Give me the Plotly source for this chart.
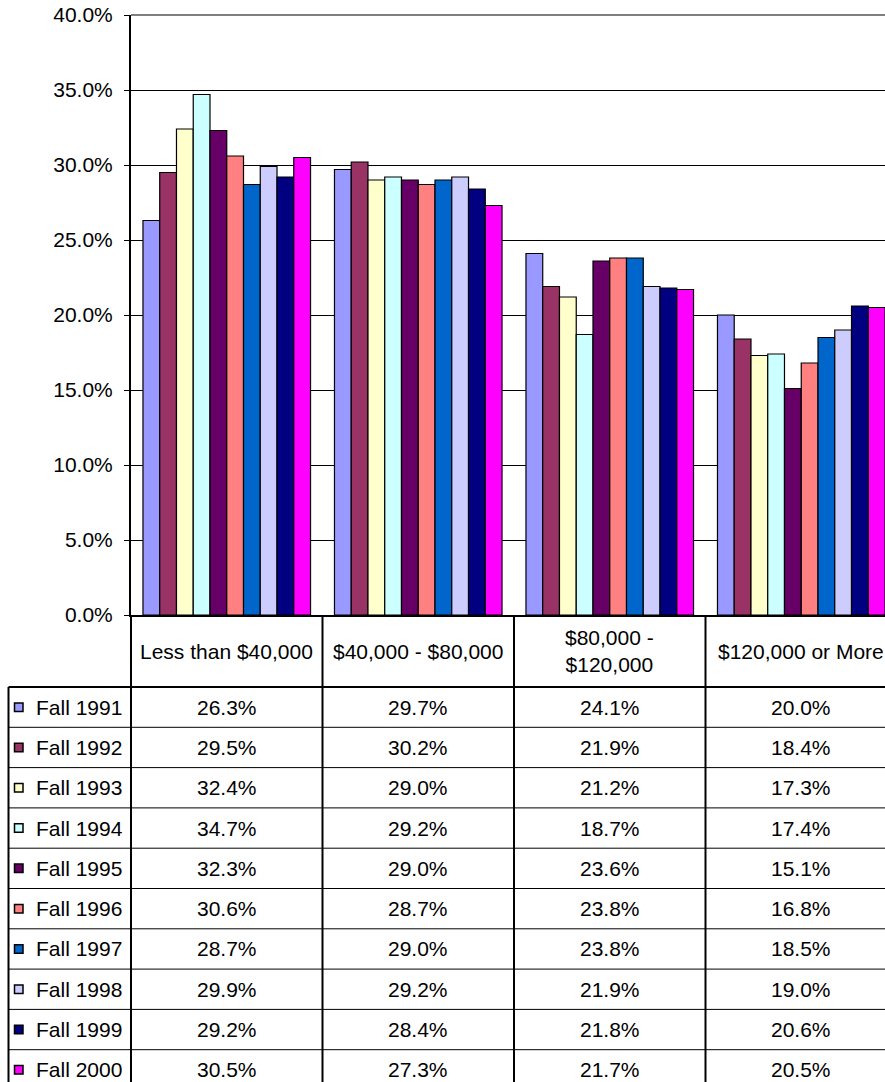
import plotly.graph_objects as go

# ---- data ----
categories = ["Less than $40,000", "$40,000 - $80,000", "$80,000 - $120,000", "$120,000 or More"]
header_labels = ["Less than $40,000", "$40,000 - $80,000", "$80,000 -<br>$120,000", "$120,000 or More"]
series_names = ["Fall 1991", "Fall 1992", "Fall 1993", "Fall 1994", "Fall 1995",
                "Fall 1996", "Fall 1997", "Fall 1998", "Fall 1999", "Fall 2000"]
fall_1991 = [26.3, 29.7, 24.1, 20.0]
fall_1992 = [29.5, 30.2, 21.9, 18.4]
fall_1993 = [32.4, 29.0, 21.2, 17.3]
fall_1994 = [34.7, 29.2, 18.7, 17.4]
fall_1995 = [32.3, 29.0, 23.6, 15.1]
fall_1996 = [30.6, 28.7, 23.8, 16.8]
fall_1997 = [28.7, 29.0, 23.8, 18.5]
fall_1998 = [29.9, 29.2, 21.9, 19.0]
fall_1999 = [29.2, 28.4, 21.8, 20.6]
fall_2000 = [30.5, 27.3, 21.7, 20.5]
series_values = [fall_1991, fall_1992, fall_1993, fall_1994, fall_1995,
                 fall_1996, fall_1997, fall_1998, fall_1999, fall_2000]
colors = ["#9999FF", "#993366", "#FFFFCC", "#CCFFFF", "#660066",
          "#FF8080", "#0066CC", "#CCCCFF", "#000080", "#FF00FF"]

# ---- layout constants (pixels) ----
W, H = 885, 1082
ML, MT = 131, 15
PLOT_BOTTOM = 615
PW = W - ML
PH = PLOT_BOTTOM - MT
CAT_PX = 191.5
X_MAX = PW / CAT_PX - 0.5
FONT = "Arial, Liberation Sans, sans-serif"
FS = 21

def px_x(px):
    return (px - ML) / PW

def px_y(py):
    return (PLOT_BOTTOM - py) / PH

fig = go.Figure()
for name, vals, col in zip(series_names, series_values, colors):
    fig.add_trace(go.Bar(
        name=name, x=categories, y=[v / 100 for v in vals],
        marker=dict(color=col, line=dict(color="black", width=1.2)),
        showlegend=False,
    ))

shapes = []
annotations = []

# top border of plot area (gray)
shapes.append(dict(type="line", xref="paper", yref="paper", x0=0, x1=1.05, y0=1, y1=1,
                   line=dict(color="#808080", width=2), layer="above"))

# table geometry
HEADER_BOTTOM = 687
ROW_H = 40.3
TABLE_LEFT = 8.5
BOTTOM = 1100

# horizontal lines
shapes.append(dict(type="line", xref="paper", yref="paper", x0=px_x(TABLE_LEFT), x1=1.05,
                   y0=px_y(HEADER_BOTTOM), y1=px_y(HEADER_BOTTOM),
                   line=dict(color="black", width=2)))
for k in range(1, len(series_names)):
    yy = px_y(HEADER_BOTTOM + k * ROW_H)
    shapes.append(dict(type="line", xref="paper", yref="paper", x0=px_x(TABLE_LEFT), x1=1.05,
                       y0=yy, y1=yy, line=dict(color="black", width=1)))
# vertical lines
shapes.append(dict(type="line", xref="paper", yref="paper", x0=px_x(TABLE_LEFT), x1=px_x(TABLE_LEFT),
                   y0=px_y(HEADER_BOTTOM), y1=px_y(BOTTOM), line=dict(color="black", width=2)))
for b in range(len(categories)):
    xx = b / (X_MAX + 0.5)
    shapes.append(dict(type="line", xref="paper", yref="paper", x0=xx, x1=xx,
                       y0=0, y1=px_y(BOTTOM), line=dict(color="black", width=2)))

# header labels
for i, lab in enumerate(header_labels):
    annotations.append(dict(xref="x", yref="paper", x=i, y=px_y((PLOT_BOTTOM + HEADER_BOTTOM) / 2),
                            text=lab, showarrow=False, xanchor="center", yanchor="middle",
                            font=dict(family=FONT, size=FS, color="black")))

# rows
for r, (name, vals, col) in enumerate(zip(series_names, series_values, colors)):
    cy = HEADER_BOTTOM + (r + 0.5) * ROW_H
    shapes.append(dict(type="rect", xref="paper", yref="paper",
                       x0=px_x(14.5), x1=px_x(23), y0=px_y(cy - 4.25), y1=px_y(cy + 4.25),
                       fillcolor=col, line=dict(color="black", width=1.5)))
    annotations.append(dict(xref="paper", yref="paper", x=px_x(34), y=px_y(cy),
                            text=name, showarrow=False, xanchor="left", yanchor="middle",
                            font=dict(family=FONT, size=FS, color="black")))
    for i, v in enumerate(vals):
        annotations.append(dict(xref="x", yref="paper", x=i, y=px_y(cy),
                                text=f"{v:.1f}%", showarrow=False, xanchor="center", yanchor="middle",
                                font=dict(family=FONT, size=FS, color="black")))

fig.update_layout(
    width=W, height=H,
    margin=dict(l=ML, r=0, t=MT, b=H - PLOT_BOTTOM, pad=0),
    paper_bgcolor="white", plot_bgcolor="white",
    barmode="group", bargap=0.125, bargroupgap=0,
    font=dict(family=FONT, size=FS, color="black"),
    shapes=shapes, annotations=annotations,
    xaxis=dict(type="category", range=[-0.5, X_MAX], showgrid=False, showticklabels=False,
               ticks="", showline=True, linecolor="black", linewidth=2, zeroline=False),
    yaxis=dict(range=[0, 0.4], dtick=0.05, tickformat=".1%", showgrid=True,
               gridcolor="black", gridwidth=1, showline=True, linecolor="black", linewidth=2,
               ticks="outside", ticklen=5, tickcolor="black", tickwidth=1, zeroline=False,
               ticklabelstandoff=7, tickfont=dict(family=FONT, size=FS, color="black")),
)

fig.write_html("out.html", config={"displayModeBar": False},
               post_script="document.body.style.margin='0';document.body.style.overflow='hidden';")
